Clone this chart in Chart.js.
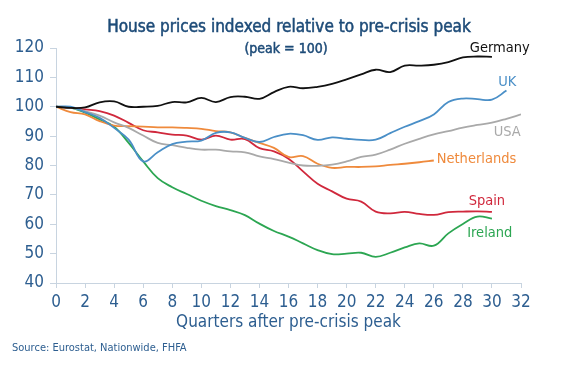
<!DOCTYPE html>
<html lang="en">
<head>
    <meta charset="UTF-8">
    <title>House prices indexed relative to pre-crisis peak</title>
    <script src="https://cdn.jsdelivr.net/npm/chart.js"></script>
    <style>
        html, body { margin: 0; padding: 0; background: #fff; }
        #wrap { width: 564px; height: 365px; }
    </style>
</head>
<body>
    <div id="wrap"><canvas id="grafico" width="564" height="365"></canvas></div>

    <script>
        // quarters after the pre-crisis peak, index peak = 100
        const germany = [100, 99.6, 99.8, 101.5, 101.8, 100, 100, 100.3, 101.6, 101.5, 103, 101.6, 103.3, 103.4, 102.7, 105, 106.8, 106.3, 106.8, 107.8, 109.3, 111, 112.6, 111.8, 114, 114, 114.3, 115.2, 116.8, 117.1, 117];
        const uk = [100, 100, 98.2, 96.2, 92.8, 88.8, 81.4, 84.5, 87.3, 88.1, 88.5, 91.1, 91.3, 89.4, 88, 89.7, 90.8, 90.3, 88.7, 89.6, 89.1, 88.7, 88.8, 91, 93.2, 95.1, 97.4, 101.6, 102.8, 102.6, 102.4, 105.5];
        const usa = [100, 99.7, 98.5, 97, 94.7, 92.8, 90.2, 87.7, 86.9, 86, 85.4, 85.4, 84.8, 84.5, 83.1, 82.2, 81, 80, 79.9, 80.3, 81.4, 82.9, 83.7, 85.4, 87.4, 89.1, 90.6, 91.7, 92.9, 93.8, 94.6, 95.9, 97.4];
        const netherlands = [100, 98.2, 97.4, 95.1, 93.6, 93.4, 93.2, 93, 93, 92.8, 92.5, 91.7, 91.3, 89.4, 87.7, 86, 82.9, 83.2, 80.6, 79.2, 79.5, 79.5, 79.7, 80.2, 80.6, 81.1, 81.7];
        const spain = [100, 99.7, 99.1, 98.5, 97, 94.5, 92, 91.3, 90.5, 90.2, 88.8, 90.2, 88.8, 89, 85.9, 84.8, 82.3, 78, 73.8, 71.2, 68.7, 67.7, 64.3, 63.7, 64.2, 63.5, 63.2, 64.1, 64.3, 64.4, 64.2];
        const ireland = [100, 99.7, 98, 95.7, 93.2, 87.7, 81.4, 75.7, 72.6, 70.3, 68, 66.2, 64.8, 63.1, 60.2, 57.7, 55.8, 53.5, 51.2, 49.8, 50, 50.3, 48.9, 50.3, 52.1, 53.5, 52.7, 56.9, 60.1, 62.6, 61.9];

        const nombres = ["Germany", "UK", "USA", "Netherlands", "Spain", "Ireland"];
        const colores = ["#111111", "#4a8fc7", "#a9a9a9", "#ef8a3c", "#d0283c", "#2ca652"];
        const series = [germany, uk, usa, netherlands, spain, ireland];
        // where each name sits, in chart units (quarter, index) and its alignment
        const etiquetas = [
            { q: 32.6, v: 120, align: "right" },
            { q: 31.05, v: 108.3, align: "center" },
            { q: 31.05, v: 91.4, align: "center" },
            { q: 26.2, v: 82.2, align: "left" },
            { q: 28.4, v: 67.8, align: "left" },
            { q: 28.3, v: 56.8, align: "left" }
        ];

        const fuente = "'Liberation Sans Narrow', 'DejaVu Sans Condensed', sans-serif";
        const azul = "#2d5e90";

        const textos = {
            id: "textos",
            afterDraw(chart) {
                const ctx = chart.ctx;
                const x = chart.scales.x, y = chart.scales.y;
                ctx.save();
                ctx.textBaseline = "middle";
                // titulo, algo mas grueso que el texto normal
                ctx.fillStyle = "#1d4b78";
                ctx.strokeStyle = "#1d4b78";
                ctx.lineWidth = 0.5;
                ctx.textAlign = "center";
                ctx.font = "17px " + fuente;
                ctx.fillText("House prices indexed relative to pre-crisis peak", 289, 28);
                ctx.strokeText("House prices indexed relative to pre-crisis peak", 289, 28);
                ctx.font = "14px " + fuente;
                ctx.fillText("(peak = 100)", 286, 49);
                ctx.strokeText("(peak = 100)", 286, 49);
                // nombres de las series
                ctx.font = "14.5px " + fuente;
                etiquetas.forEach((e, i) => {
                    ctx.fillStyle = colores[i];
                    ctx.textAlign = e.align;
                    ctx.fillText(nombres[i], x.getPixelForValue(e.q), y.getPixelForValue(e.v));
                });
                // fuente de los datos
                ctx.fillStyle = azul;
                ctx.textAlign = "left";
                ctx.font = "11px " + fuente;
                ctx.fillText("Source: Eurostat, Nationwide, FHFA", 12, 348);
                ctx.restore();
            }
        };

        new Chart(document.getElementById("grafico"), {
            type: "line",
            data: {
                datasets: series.map((s, i) => ({
                    label: nombres[i],
                    data: s.map((v, q) => ({ x: q, y: v })),
                    borderColor: colores[i],
                    borderWidth: 1.8,
                    pointRadius: 0,
                    tension: 0.4,
                    fill: false
                }))
            },
            options: {
                responsive: false,
                animation: false,
                layout: { padding: { top: 48, right: 43, left: 0, bottom: 32 } },
                plugins: {
                    legend: { display: false },
                    tooltip: { enabled: false }
                },
                scales: {
                    x: {
                        type: "linear",
                        min: 0,
                        max: 32,
                        afterFit: (s) => { s.height = 50; },
                        border: { color: "#c8d4e0" },
                        grid: { drawOnChartArea: false, color: "#c8d4e0", tickLength: 5 },
                        ticks: { stepSize: 2, color: azul, font: { family: fuente, size: 17 }, padding: 4 },
                        title: { display: true, text: "Quarters after pre-crisis peak", color: azul, font: { family: fuente, size: 17 }, padding: 0 }
                    },
                    y: {
                        min: 40,
                        max: 120,
                        afterFit: (s) => { s.width = 56; },
                        border: { color: "#c8d4e0" },
                        grid: { drawOnChartArea: false, color: "#c8d4e0", tickLength: 6 },
                        ticks: { stepSize: 10, color: azul, font: { family: fuente, size: 17 }, padding: 6 }
                    }
                }
            },
            plugins: [textos]
        });
    </script>
</body>
</html>
